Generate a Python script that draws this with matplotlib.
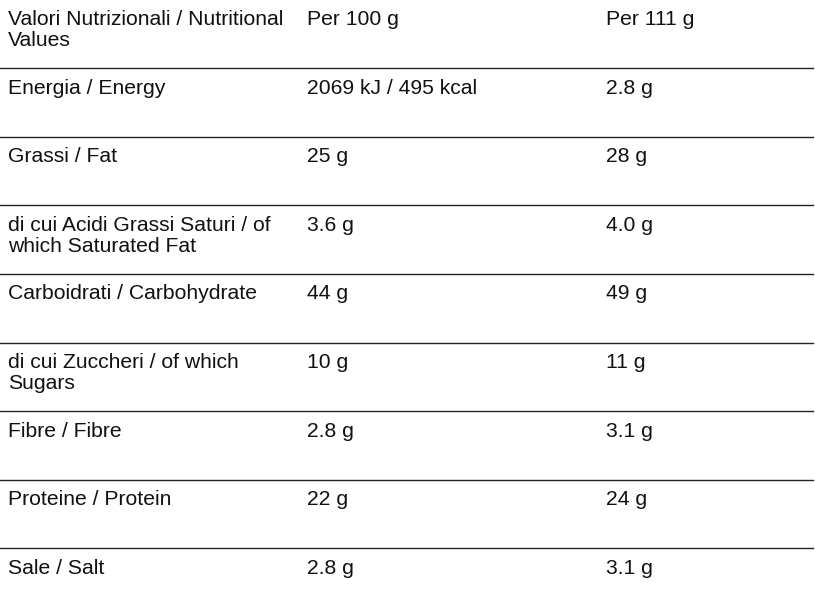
import matplotlib.pyplot as plt

col_headers = ["Valori Nutrizionali / Nutritional\nValues", "Per 100 g", "Per 111 g"]
nutrients = ["Energia / Energy", "Grassi / Fat",
             "di cui Acidi Grassi Saturi / of\nwhich Saturated Fat",
             "Carboidrati / Carbohydrate", "di cui Zuccheri / of which\nSugars",
             "Fibre / Fibre", "Proteine / Protein", "Sale / Salt"]
per_100g = ["2069 kJ / 495 kcal", "25 g", "3.6 g", "44 g", "10 g", "2.8 g", "22 g", "2.8 g"]
per_111g = ["2.8 g", "28 g", "4.0 g", "49 g", "11 g", "3.1 g", "24 g", "3.1 g"]

W, H = 815, 597
fig = plt.figure(figsize=(W / 100, H / 100), dpi=100)
ax = fig.add_axes([0, 0, 1, 1])
ax.set_xlim(0, W)
ax.set_ylim(H, 0)
ax.axis("off")

col_x = [8, 307, 606]
row_top = 10
row_h = 68.6
font = dict(family="Liberation Sans", fontsize=15.2, color="#111111",
            va="top", ha="left", linespacing=1.12)

rows = [col_headers] + [list(r) for r in zip(nutrients, per_100g, per_111g)]
for i, row in enumerate(rows):
    y = row_top + i * row_h
    for x, txt in zip(col_x, row):
        ax.text(x, y, txt, **font)
    if i < len(rows) - 1:
        ax.plot([0, 813], [y + row_h - 10.5] * 2, color="#222222", lw=1)

fig.savefig("out.png", dpi=100)
